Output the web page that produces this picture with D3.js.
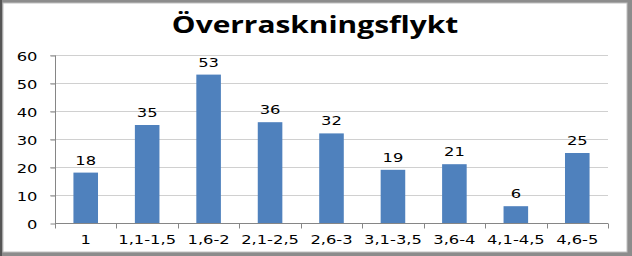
<!DOCTYPE html>
<html>
<head>
<meta charset="utf-8">
<script src="https://cdn.jsdelivr.net/npm/d3@7"></script>
<style>
  body { margin: 0; background: #fff; }
  svg { display: block; }
</style>
</head>
<body>
<div id="chart"></div>
<script>
// values
let categories = ["1", "1,1-1,5", "1,6-2", "2,1-2,5", "2,6-3", "3,1-3,5", "3,6-4", "4,1-4,5", "4,6-5"];
let counts = [18, 35, 53, 36, 32, 19, 21, 6, 25];
let yTicks = [0, 10, 20, 30, 40, 50, 60];
let title = "Överraskningsflykt";

let width = 632, height = 256;
let margin = {left: 55, right: 24, top: 55, bottom: 33};
let stretch = 1.42; // the picture's text is wider than normal

let svg = d3.select("#chart").append("svg")
	.attr("width", width)
	.attr("height", height);

// frame
svg.append("rect").attr("x", 0).attr("y", 0).attr("width", width).attr("height", height).style("fill", "#8c8c8c");
svg.append("rect").attr("x", 0).attr("y", 0).attr("width", 2).attr("height", height).style("fill", "#555");
svg.append("rect").attr("x", 3).attr("y", 3).attr("width", width - 8).attr("height", height - 7)
	.style("fill", "#fff").style("stroke", "#bfbfbf").style("stroke-width", 1);

let x = d3.scaleBand()
	.domain(categories)
	.range([margin.left, width - margin.right])
	.paddingInner(0.6)
	.paddingOuter(0.3);

let y = d3.scaleLinear()
	.domain([0, 60])
	.range([height - margin.bottom, margin.top]);

// gridlines
svg.append("g")
	.selectAll("line")
	.data(yTicks.slice(1))
	.enter().append("line")
	.attr("x1", margin.left - 5).attr("x2", width - margin.right)
	.attr("y1", function(d) { return Math.round(y(d)) + 0.5; })
	.attr("y2", function(d) { return Math.round(y(d)) + 0.5; })
	.style("stroke", "#d0d0d0");

let yAxis = svg.append("g")
	.attr("transform", "translate(" + (margin.left + 0.5) + ",0.5)")
	.call(d3.axisLeft(y).tickValues(yTicks).tickSize(5));
yAxis.select(".domain").attr("d", "M0," + y(60) + "V" + y(0));
yAxis.selectAll("text")
	.attr("x", null)
	.attr("transform", "translate(-18,1) scale(" + stretch + ",1)");

let step = x.step();
let xAxis = svg.append("g")
	.attr("transform", "translate(0," + (Math.round(y(0)) + 0.5) + ")");
xAxis.append("line")
	.attr("x1", margin.left).attr("x2", width - margin.right)
	.style("stroke", "#868686");
xAxis.selectAll(".tk")
	.data(d3.range(categories.length + 1))
	.enter().append("line")
	.attr("class", "tk")
	.attr("x1", function(i) { return Math.round(margin.left + i * step) + 0.5; })
	.attr("x2", function(i) { return Math.round(margin.left + i * step) + 0.5; })
	.attr("y1", 0).attr("y2", 5)
	.style("stroke", "#868686");
xAxis.selectAll("text")
	.data(categories)
	.enter().append("text")
	.attr("transform", function(d) { return "translate(" + (x(d) + x.bandwidth() / 2) + ",20) scale(" + stretch + ",1)"; })
	.style("text-anchor", "middle")
	.text(function(d) { return d; });

[yAxis, xAxis].forEach(function(a) {
	a.selectAll("path, line").style("stroke", "#868686");
	a.selectAll("text")
		.style("font-family", "DejaVu Sans, Verdana, sans-serif")
		.style("font-size", "11.5px")
		.style("fill", "#000");
});

svg.selectAll(".bar")
	.data(counts)
	.enter().append("rect")
	.attr("class", "bar")
	.attr("x", function(d, i) { return x(categories[i]); })
	.attr("y", function(d) { return y(d); })
	.attr("width", x.bandwidth())
	.attr("height", function(d) { return y(0) - y(d); })
	.style("fill", "#4f81bd");

svg.selectAll(".val")
	.data(counts)
	.enter().append("text")
	.attr("class", "val")
	.attr("transform", function(d, i) {
		return "translate(" + (x(categories[i]) + x.bandwidth() / 2) + "," + (y(d) - 8) + ") scale(" + stretch + ",1)";
	})
	.style("text-anchor", "middle")
	.style("font-family", "DejaVu Sans, Verdana, sans-serif")
	.style("font-size", "11.5px")
	.text(function(d) { return d; });

svg.append("text")
	.attr("transform", "translate(315,33) scale(1.3,1)")
	.style("text-anchor", "middle")
	.style("font-family", "Open Sans, sans-serif")
	.style("font-weight", "bold")
	.style("font-size", "23px")
	.text(title);
</script>
</body>
</html>
